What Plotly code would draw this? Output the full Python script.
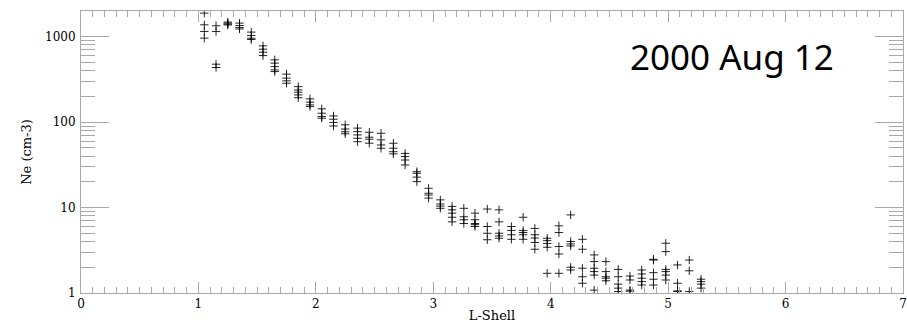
import plotly.graph_objects as go

# L-shell bin centres of the density profile
l_bins = [1.05, 1.15, 1.25, 1.35, 1.45, 1.55, 1.65, 1.75, 1.85, 1.95,
          2.05, 2.15, 2.25, 2.355, 2.455, 2.555, 2.66, 2.76, 2.86, 2.96,
          3.06, 3.16, 3.26, 3.355, 3.46, 3.56, 3.665, 3.765, 3.865, 3.97,
          4.07, 4.17, 4.27, 4.37, 4.47, 4.575, 4.675, 4.775, 4.875, 4.98,
          5.08, 5.18, 5.28]

# electron density samples (cm-3) in each L bin
ne_per_bin = [
    [1885, 1375, 1150, 960],
    [1340, 1150, 476, 435],
    [1480, 1440, 1400, 1370],
    [1440, 1350, 1280, 1230],
    [1130, 1030, 957, 925],
    [780, 713, 658, 600],
    [535, 490, 446, 408, 390],
    [364, 327, 304, 285],
    [260, 238, 224, 208, 193],
    [187, 171, 159, 152],
    [143, 127, 116, 111],
    [118, 108, 99, 90],
    [93, 83, 77, 73],
    [85, 77.4, 70.8, 64.7, 59],
    [76, 66.5, 63, 56.6],
    [74, 62, 54, 49.4],
    [56.6, 49.4, 45, 42.5],
    [43, 39.5, 36, 31.5],
    [26.3, 25.2, 22.7, 20.1],
    [16.8, 14.7, 14, 12.9],
    [12.3, 11, 10.4, 9.8],
    [10.3, 9.4, 8.6, 7.7, 6.8],
    [9.8, 7.8, 7.2, 6.5],
    [8.6, 7.2, 6.5, 6.3, 6.0],
    [9.6, 6.0, 5.0, 4.2],
    [9.4, 6.8, 5.0, 4.65, 4.37],
    [6.0, 5.4, 4.8, 4.25],
    [7.7, 5.4, 5.1, 4.8, 4.25],
    [5.7, 4.8, 4.4, 3.9, 3.25],
    [4.37, 4.1, 3.8, 3.43, 1.7],
    [6.1, 5.1, 3.5, 2.86, 1.7],
    [8.2, 4.0, 3.75, 3.55, 2.0, 1.86],
    [4.25, 3.25, 1.95, 1.55, 1.3],
    [2.79, 2.33, 1.95, 1.78, 1.62, 1.08],
    [2.33, 1.78, 1.55, 1.49, 1.39],
    [1.89, 1.55, 1.27, 1.14, 1.04],
    [1.58, 1.42, 1.08, 1.05],
    [1.86, 1.67, 1.49, 1.36, 1.24],
    [2.48, 2.43, 1.73, 1.45, 1.24],
    [3.82, 3.05, 1.89, 1.78, 1.62, 1.42],
    [2.13, 1.3, 1.06, 1.04],
    [2.43, 1.82, 1.04],
    [1.45, 1.36, 1.27, 1.14],
]

x_ticks = [0, 1, 2, 3, 4, 5, 6, 7]
y_ticks = [1, 10, 100, 1000]
y_tick_text = ["1", "10", "100", "1000"]

l_shell, ne = [], []
for l_val, samples in zip(l_bins, ne_per_bin):
    l_shell.extend([l_val] * len(samples))
    ne.extend(samples)

axis_grey = "#a8a8a8"
serif = dict(family="DejaVu Serif", size=12, color="black")
serif_title = dict(family="DejaVu Serif", size=13, color="black")

fig = go.Figure(go.Scatter(
    x=l_shell, y=ne, mode="markers",
    marker=dict(symbol="cross-thin", size=6,
                line=dict(width=1, color="rgba(0,0,0,0.85)")),
    hoverinfo="x+y",
))

fig.update_layout(
    width=907, height=324,
    margin=dict(l=81, r=4, t=11, b=31),
    paper_bgcolor="white", plot_bgcolor="white",
    showlegend=False,
    annotations=[dict(
        text="2000 Aug 12", xref="paper", yref="paper",
        x=0.792, y=0.84, xanchor="center", yanchor="middle",
        showarrow=False,
        font=dict(family="Noto Sans", size=35, color="black"),
    )],
)

fig.update_xaxes(
    range=[0, 7], tickvals=x_ticks, ticks="inside", ticklen=11,
    tickcolor=axis_grey, tickwidth=1, ticklabelstandoff=0,
    minor=dict(dtick=0.1, ticks="inside", ticklen=6,
               tickcolor=axis_grey, tickwidth=1),
    showline=True, linecolor=axis_grey, linewidth=1, mirror="ticks",
    showgrid=False, zeroline=False, tickfont=serif, automargin=False,
    title=dict(text="L-Shell", font=serif_title, standoff=0),
)

fig.update_yaxes(
    type="log", range=[0, 3.30],
    tickvals=y_ticks, ticktext=y_tick_text,
    ticks="inside", ticklen=28, tickcolor=axis_grey, tickwidth=1,
    ticklabelstandoff=2,
    minor=dict(dtick="D1", ticks="inside", ticklen=14,
               tickcolor=axis_grey, tickwidth=1),
    showline=True, linecolor=axis_grey, linewidth=1, mirror="ticks",
    showgrid=False, zeroline=False, tickfont=serif, automargin=False,
    title=dict(text="Ne (cm-3)", font=serif_title, standoff=10),
)

fig.write_html("out.html")
